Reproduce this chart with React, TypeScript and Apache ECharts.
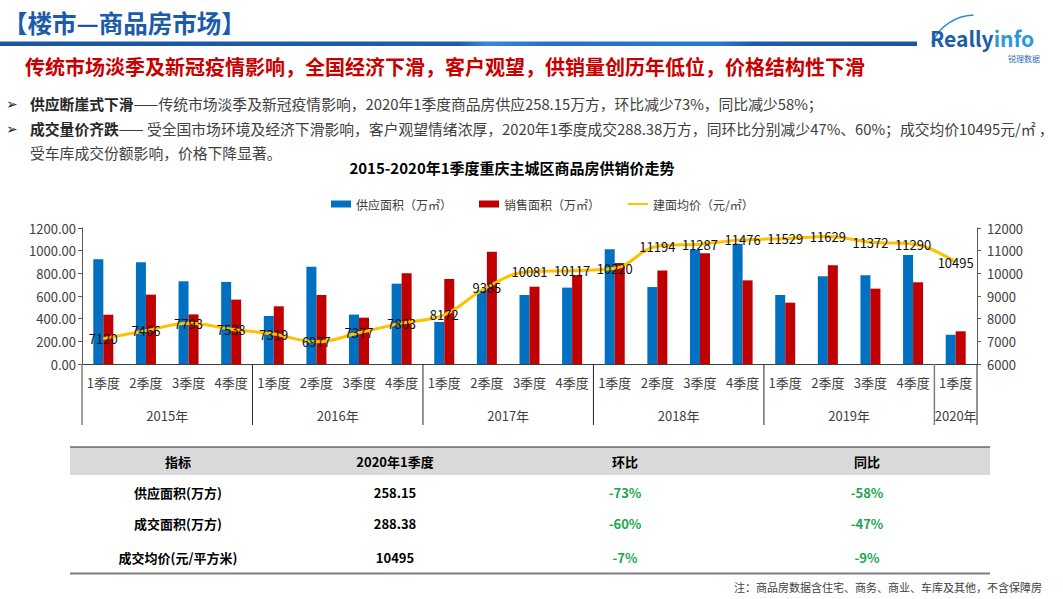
import React, { useEffect, useRef } from "react";
import * as echarts from "echarts";

const FONT = '"Microsoft YaHei", "Noto Sans CJK SC", sans-serif';

const quarters = [
  "1季度", "2季度", "3季度", "4季度",
  "1季度", "2季度", "3季度", "4季度",
  "1季度", "2季度", "3季度", "4季度",
  "1季度", "2季度", "3季度", "4季度",
  "1季度", "2季度", "3季度", "4季度",
  "1季度",
];
const years = ["2015年", "2016年", "2017年", "2018年", "2019年", "2020年"];
const quartersPerYear = [4, 4, 4, 4, 4, 1];

const supplyArea = [925, 897, 730, 724, 424, 859, 436, 709, 371, 650, 609, 674, 1012, 679, 1006, 1062, 609, 774, 783, 962, 258.15];
const salesArea = [435, 612, 438, 568, 509, 609, 409, 800, 750, 991, 682, 782, 891, 824, 977, 738, 541, 871, 665, 721, 288.38];
const avgPrice = [7120, 7466, 7793, 7538, 7319, 6977, 7377, 7803, 8172, 9385, 10081, 10117, 10220, 11194, 11287, 11476, 11529, 11629, 11372, 11290, 10495];

const seriesNames = ["供应面积（万㎡）", "销售面积（万㎡）", "建面均价（元/㎡）"];

const tableHeader = ["指标", "2020年1季度", "环比", "同比"];
const tableRowNames = ["供应面积(万方)", "成交面积(万方)", "成交均价(元/平方米)"];
const tableValues = ["258.15", "288.38", "10495"];
const tableQoQ = ["-73%", "-60%", "-7%"];
const tableYoY = ["-58%", "-47%", "-9%"];

const pageTitle = "【楼市—商品房市场】";
const subTitle = "传统市场淡季及新冠疫情影响，全国经济下滑，客户观望，供销量创历年低位，价格结构性下滑";
const bullet1Bold = "供应断崖式下滑";
const bullet1Text = "——传统市场淡季及新冠疫情影响，2020年1季度商品房供应258.15万方，环比减少73%，同比减少58%；";
const bullet2Bold = "成交量价齐跌";
const bullet2Text = "—— 受全国市场环境及经济下滑影响，客户观望情绪浓厚，2020年1季度成交288.38万方，同环比分别减少47%、60%；成交均价10495元/㎡ ，";
const bullet2Cont = "受车库成交份额影响，价格下降显著。";
const chartTitle = "2015-2020年1季度重庆主城区商品房供销价走势";
const footnote = "注：商品房数据含住宅、商务、商业、车库及其他，不含保障房";

const BLUE = "#0070C0";
const RED = "#C00000";
const GOLD = "#FFC000";
const AXIS = "#404040";

function txt(x: number, y: number, text: string, s: any = {}) {
  return {
    type: "text",
    x,
    y,
    silent: true,
    style: {
      text,
      fontFamily: FONT,
      fontSize: s.fontSize ?? 13,
      fontWeight: s.fontWeight ?? "normal",
      fill: s.fill ?? "#000",
      align: s.align ?? "left",
      verticalAlign: s.verticalAlign ?? "middle",
      rich: s.rich,
    },
    z: s.z ?? 10,
  };
}

export default function App() {
  const ref = useRef<HTMLDivElement>(null);

  useEffect(() => {
    document.body.style.margin = "0";
    const chart = echarts.init(ref.current!, null, { renderer: "svg" });
    chart.setOption({
      animation: false,
      backgroundColor: "#fff",
      textStyle: { fontFamily: FONT },
      legend: {
        left: 326,
        top: 193,
        itemWidth: 20,
        itemHeight: 7,
        itemGap: 27,
        textStyle: { fontSize: 12, color: AXIS, fontFamily: FONT },
        data: [
          { name: seriesNames[0], icon: "rect" },
          { name: seriesNames[1], icon: "rect" },
          { name: seriesNames[2], itemStyle: { opacity: 0 } },
        ],
      },
      grid: { left: 82, right: 86, top: 228, bottom: 235, containLabel: false },
      xAxis: {
        type: "category",
        data: quarters,
        axisLine: { lineStyle: { color: AXIS, width: 1 } },
        axisTick: { show: false },
        axisLabel: { interval: 0, fontSize: 13, color: AXIS, margin: 12, fontFamily: FONT },
      },
      yAxis: [
        {
          type: "value",
          min: 0,
          max: 1200,
          interval: 200,
          position: "left",
          axisLine: { show: true, lineStyle: { color: "#595959" } },
          axisTick: { show: true, length: 4, lineStyle: { color: "#595959" } },
          axisLabel: { fontSize: 13, color: AXIS, margin: 6, formatter: (v: number) => v.toFixed(2) },
          splitLine: { show: false },
        },
        {
          type: "value",
          min: 6000,
          max: 12000,
          interval: 1000,
          position: "right",
          axisLine: { show: true, lineStyle: { color: "#595959" } },
          axisTick: { show: true, length: 4, lineStyle: { color: "#595959" } },
          axisLabel: { fontSize: 13, color: AXIS, margin: 10, formatter: (v: number) => String(v) },
          splitLine: { show: false },
        },
      ],
      series: [
        {
          name: seriesNames[0],
          type: "bar",
          data: supplyArea,
          barWidth: 10,
          barGap: "0%",
          itemStyle: { color: BLUE },
          z: 2,
        },
        {
          name: seriesNames[1],
          type: "bar",
          data: salesArea,
          barWidth: 10,
          barGap: "0%",
          itemStyle: { color: RED },
          z: 2,
        },
        {
          name: seriesNames[2],
          type: "line",
          yAxisIndex: 1,
          data: avgPrice,
          smooth: 0.4,
          symbol: "circle",
          symbolSize: 1,
          showSymbol: true,
          lineStyle: { color: GOLD, width: 3 },
          itemStyle: { color: GOLD },
          label: {
            show: true,
            position: "inside",
            fontSize: 13,
            color: "#111",
            fontFamily: FONT,
          },
          z: 5,
        },
      ],
    });

    const xs = quarters.map((_, i) => chart.convertToPixel({ xAxisIndex: 0 }, i) as number);
    const band = xs[1] - xs[0];
    const axisY = chart.convertToPixel({ yAxisIndex: 0 }, 0) as number;
    const sepBottom = axisY + 61;

    const dyn: any[] = [];
    let start = 0;
    quartersPerYear.forEach((n, k) => {
      const left = xs[start] - band / 2;
      const grey = k === 0 || k === quartersPerYear.length - 1;
      dyn.push({
        type: "line",
        shape: { x1: left, y1: axisY, x2: left, y2: sepBottom },
        style: { stroke: grey ? "#7f7f7f" : "#262626", lineWidth: grey ? 1.5 : 1 },
        silent: true,
        z: 10,
      });
      let sum = 0;
      for (let i = start; i < start + n; i++) sum += xs[i];
      dyn.push(txt(sum / n, axisY + 51, years[k], { fontSize: 13, fill: AXIS, align: "center" }));
      start += n;
    });
    const rightEdge = xs[xs.length - 1] + band / 2;
    dyn.push({
      type: "line",
      shape: { x1: rightEdge, y1: axisY, x2: rightEdge, y2: sepBottom },
      style: { stroke: "#262626", lineWidth: 1 },
      silent: true,
      z: 10,
    });

    const colX = [178, 395, 625, 867];
    const rowY = [492, 523, 557];
    const GREEN = "#1AA64E";
    const table: any[] = [
      { type: "rect", shape: { x: 70, y: 447, width: 920, height: 28 }, style: { fill: "#D9D9D9" }, silent: true, z: 5 },
      { type: "line", shape: { x1: 70, y1: 447, x2: 990, y2: 447 }, style: { stroke: "#262626", lineWidth: 1 }, silent: true, z: 6 },
      { type: "line", shape: { x1: 70, y1: 573.5, x2: 990, y2: 573.5 }, style: { stroke: "#7f7f7f", lineWidth: 2 }, silent: true, z: 6 },
    ];
    tableHeader.forEach((h, i) => table.push(txt(colX[i], 461, h, { fontWeight: "bold", align: "center", fontSize: 13 })));
    tableRowNames.forEach((r, i) => {
      table.push(txt(colX[0], rowY[i], r, { fontWeight: "bold", align: "center", fontSize: 13 }));
      table.push(txt(colX[1], rowY[i], tableValues[i], { fontWeight: "bold", align: "center", fontSize: 13 }));
      table.push(txt(colX[2], rowY[i], tableQoQ[i], { fontWeight: "bold", align: "center", fontSize: 13, fill: GREEN }));
      table.push(txt(colX[3], rowY[i], tableYoY[i], { fontWeight: "bold", align: "center", fontSize: 13, fill: GREEN }));
    });

    const stat: any[] = [
      // header
      txt(3, 22, pageTitle, { fontSize: 24.5, fontWeight: "bold", fill: "#1A5BAA" }),
      {
        type: "rect",
        shape: { x: 0, y: 41.5, width: 917, height: 4.5 },
        style: {
          fill: new echarts.graphic.LinearGradient(0, 0, 1, 0, [
            { offset: 0, color: "#1C54A2" },
            { offset: 0.5, color: "#1E5DAE" },
            { offset: 0.53, color: "#3A88D6" },
            { offset: 0.6, color: "#2670C2" },
            { offset: 0.78, color: "#2A7ACB" },
            { offset: 0.82, color: "#1E5BAA" },
            { offset: 1, color: "#1C54A2" },
          ]),
        },
        silent: true,
      },
      // logo
      {
        type: "arc",
        shape: { cx: 975, cy: 62, r: 47, startAngle: Math.PI * 1.13, endAngle: Math.PI * 1.49, clockwise: true },
        style: { stroke: "#2C8FD0", lineWidth: 1.5, fill: "none" },
        silent: true,
      },
      txt(930, 38, "{a|Really}{b|info}", {
        fontSize: 21,
        rich: {
          a: { fontSize: 21, fontWeight: "bold", fill: "#1B5EA6", fontFamily: FONT },
          b: { fontSize: 21, fontWeight: "bold", fill: "#2C9AD6", fontFamily: FONT },
        },
      }),
      txt(1040, 58, "锐理数据", { fontSize: 8, fill: "#2C6FB5", align: "right" }),
      // subtitle
      txt(25, 66, subTitle, { fontSize: 20, fontWeight: "bold", fill: "#C80000" }),
      // bullets
      txt(6, 103, "➢", { fontSize: 14, fill: "#262626" }),
      txt(30, 103, `{b|${bullet1Bold}}{n|${bullet1Text}}`, {
        rich: {
          b: { fontSize: 14.8, fontWeight: "bold", fill: "#262626", fontFamily: FONT },
          n: { fontSize: 14.8, fill: "#404040", fontFamily: FONT },
        },
      }),
      txt(6, 128, "➢", { fontSize: 14, fill: "#262626" }),
      txt(30, 128, `{b|${bullet2Bold}}{n|${bullet2Text}}`, {
        rich: {
          b: { fontSize: 14.8, fontWeight: "bold", fill: "#262626", fontFamily: FONT },
          n: { fontSize: 14.8, fill: "#404040", fontFamily: FONT },
        },
      }),
      txt(30, 152, bullet2Cont, { fontSize: 14.8, fill: "#404040" }),
      // chart title
      txt(512, 167, chartTitle, { fontSize: 15, fontWeight: "bold", fill: "#000", align: "center" }),
      // footnote
      txt(1042, 587, footnote, { fontSize: 11, fill: "#404040", align: "right" }),
    ];

    chart.setOption({ graphic: { elements: [...stat, ...dyn, ...table] } });

    return () => chart.dispose();
  }, []);

  return <div ref={ref} style={{ width: 1063, height: 599 }} />;
}
